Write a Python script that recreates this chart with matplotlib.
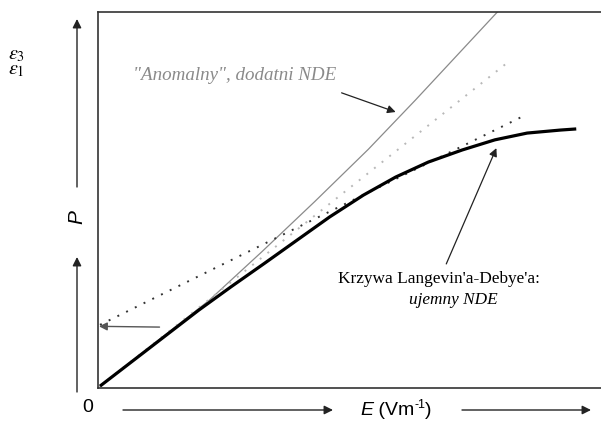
import matplotlib
matplotlib.use("Agg")
import matplotlib.pyplot as plt
from matplotlib.patches import FancyArrowPatch

# ---- data ----
anom_E = [0.04, 1.10, 2.23, 3.30, 4.37, 5.45, 6.40, 8.05, 8.25]
anom_P = [0.05, 1.15, 2.32, 3.62, 4.96, 6.35, 7.66, 10.0, 10.28]

init_E = [0.04, 8.24]
init_P = [0.05, 8.64]

tang_E = [0.04, 8.54]
tang_P = [1.68, 7.21]

lang_E = [0.04, 2.03, 2.68, 3.36, 4.02, 4.67, 5.35, 6.00, 6.66, 7.34, 8.00, 8.65, 9.32, 9.64]
lang_P = [0.05, 2.07, 2.69, 3.32, 3.94, 4.55, 5.13, 5.61, 6.01, 6.33, 6.60, 6.78, 6.86, 6.89]

W, H = 601, 423
fig = plt.figure(figsize=(W / 100, H / 100), dpi=100)
ax = fig.add_axes([98 / W, 35 / H, 1 - 98 / W + 0.01, 376 / H])
ax.set_xlim(0, 10.26)
ax.set_ylim(0, 10)
ax.spines["right"].set_visible(False)
for s in ["left", "bottom", "top"]:
    ax.spines[s].set_color("#333333")
    ax.spines[s].set_linewidth(1.2)
ax.set_xticks([])
ax.set_yticks([])

ax.plot(anom_E, anom_P, color="#8a8a8a", lw=0.9, solid_joinstyle="round")
ax.plot(init_E, init_P, color="#b8b8b8", lw=1.4, ls=(0, (1, 4)))
ax.plot(tang_E, tang_P, color="#333333", lw=1.4, ls=(0, (1, 4)))
ax.plot(lang_E, lang_P, color="black", lw=2.3, solid_capstyle="butt",
        solid_joinstyle="round")

# arrows inside
arr = dict(arrowstyle="-|>", color="#222222", lw=0.9, mutation_scale=12,
           shrinkA=0, shrinkB=0)
ax.annotate("", xy=(6.00, 7.34), xytext=(4.91, 7.85), arrowprops=arr)
ax.annotate("", xy=(8.03, 6.38), xytext=(7.02, 3.30), arrowprops=arr)
ax.annotate("", xy=(0.02, 1.64), xytext=(1.24, 1.62),
            arrowprops=dict(arrowstyle="-|>", color="#555555", lw=1.0,
                            mutation_scale=12, shrinkA=0, shrinkB=0))

sans = "Liberation Sans"
serif = "Liberation Serif"

ax.text(0.70, 8.30, "\"Anomalny\", dodatni NDE", family=serif, style="italic",
        color="#8a8a8a", fontsize=13.7, ha="left", va="center")
ax.text(4.83, 2.90, "Krzywa Langevin'a-Debye'a:", family=serif,
        fontsize=12.4, ha="left", va="center")
ax.text(6.26, 2.33, "ujemny NDE", family=serif, style="italic",
        fontsize=12.4, ha="left", va="center")


def fx(px):
    return px / W


def fy(py):
    return 1 - py / H


ap = dict(arrowstyle="-|>", color="#222222", lw=1.0, mutation_scale=13,
          shrinkA=0, shrinkB=0)
for (x0, y0), (x1, y1) in [((77, 392), (77, 257)), ((77, 187), (77, 19)),
                           ((123, 410), (333, 410)), ((462, 410), (591, 410))]:
    fig.add_artist(FancyArrowPatch((fx(x0), fy(y0)), (fx(x1), fy(y1)),
                                   transform=fig.transFigure, **ap))

fig.text(fx(77), fy(217), "P", family=sans, style="italic", fontsize=15,
         rotation=90, ha="center", va="center")
fig.text(fx(88), fy(407), "0", family=sans, fontsize=14, ha="center", va="center")

# E (Vm-1) label built from pieces
renderer = fig.canvas.get_renderer()
x = 360
base = fy(415)
pieces = [("E", dict(style="italic", fontsize=14), 0),
          (" (Vm", dict(fontsize=14), 0),
          ("-1", dict(fontsize=9), 7),
          (")", dict(fontsize=14), 0)]
for txt, kw, rise in pieces:
    t = fig.text(fx(x), base + rise / H, txt, family=sans, ha="left",
                 va="baseline", **kw)
    bb = t.get_window_extent(renderer)
    x += bb.width

fig.text(fx(8), fy(62), "$\\varepsilon_3$\n$\\varepsilon_1$", fontsize=14.5,
         ha="left", va="center", linespacing=0.75, math_fontfamily="stix")

fig.savefig("out.png", dpi=100)
